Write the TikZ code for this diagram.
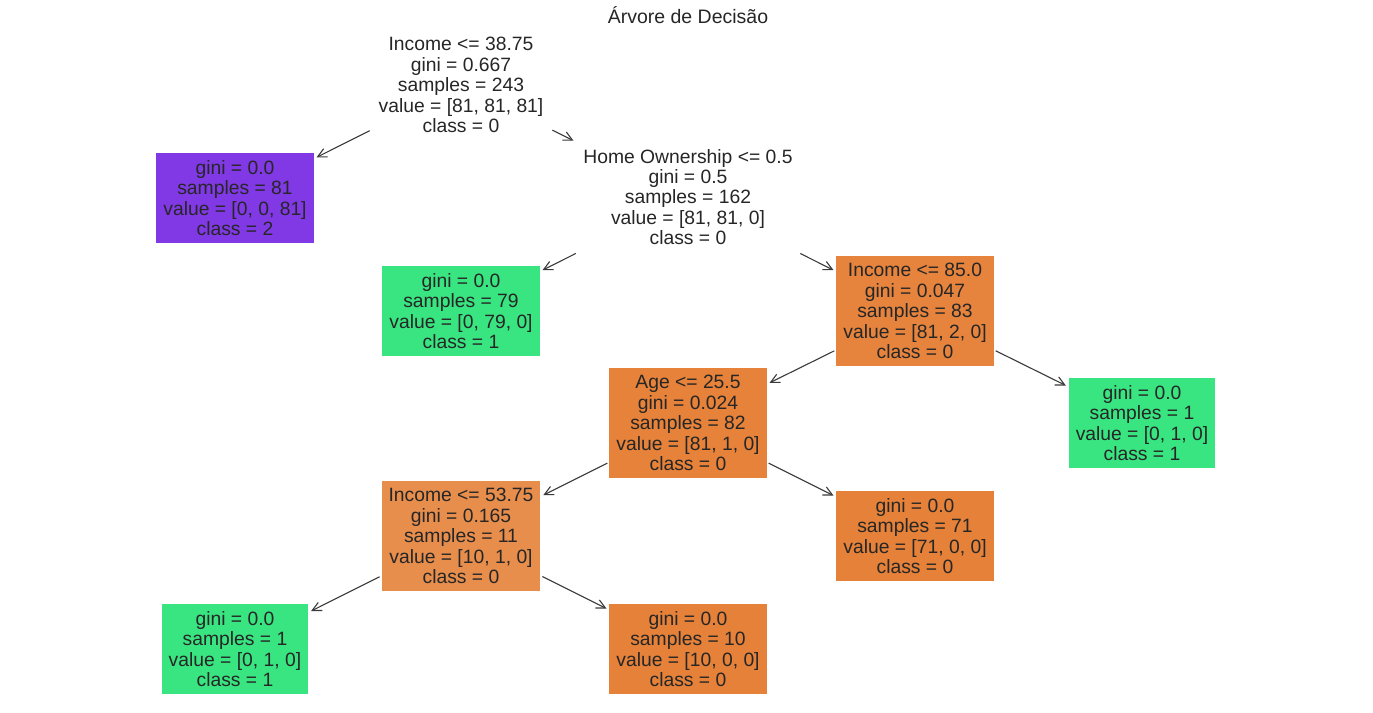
\documentclass[tikz,border=0pt]{standalone}
\usepackage{fontspec}
\setmainfont{Liberation Sans}
\usetikzlibrary{arrows.meta}
\definecolor{txt}{HTML}{262626}
\definecolor{edgec}{HTML}{3A3A3A}
\definecolor{cpurple}{HTML}{8139E5}
\definecolor{cgreen}{HTML}{39E581}
\definecolor{corange}{HTML}{E58139}
\definecolor{corangeA}{HTML}{E6843E}
\definecolor{corangeB}{HTML}{E68239}
\definecolor{corangeC}{HTML}{E88E4D}
\tikzset{
  treenode/.style={rectangle, align=center, inner xsep=7pt, inner ysep=7.5pt, text=txt,
    font=\fontsize{19.3}{20.4}\selectfont},
  edge/.style={draw=edgec, line width=1.1pt, -{Straight Barb[length=9pt,width=9pt]},
    shorten <=2pt, shorten >=3pt}
}
\begin{document}
\begin{tikzpicture}[x=1pt,y=-1pt]
\useasboundingbox (0,0) rectangle (1373,712);
\node[text=txt, font=\fontsize{19.5}{21}\selectfont] (title) at (688,15) {Árvore de Decisão};
\node[treenode] (root) at (461,85) {Income <= 38.75\\gini = 0.667\\samples = 243\\value = [81, 81, 81]\\class = 0};
\node[treenode, fill=cpurple] (n1) at (235,198) {gini = 0.0\\samples = 81\\value = [0, 0, 81]\\class = 2};
\node[treenode] (n2) at (688,197) {Home Ownership <= 0.5\\gini = 0.5\\samples = 162\\value = [81, 81, 0]\\class = 0};
\node[treenode, fill=cgreen] (n3) at (461,311) {gini = 0.0\\samples = 79\\value = [0, 79, 0]\\class = 1};
\node[treenode, fill=corangeA] (n4) at (915,311) {Income <= 85.0\\gini = 0.047\\samples = 83\\value = [81, 2, 0]\\class = 0};
\node[treenode, fill=corangeB] (n5) at (688,423) {Age <= 25.5\\gini = 0.024\\samples = 82\\value = [81, 1, 0]\\class = 0};
\node[treenode, fill=cgreen] (n6) at (1142,423) {gini = 0.0\\samples = 1\\value = [0, 1, 0]\\class = 1};
\node[treenode, fill=corangeC] (n7) at (461,536) {Income <= 53.75\\gini = 0.165\\samples = 11\\value = [10, 1, 0]\\class = 0};
\node[treenode, fill=corange] (n8) at (915,536) {gini = 0.0\\samples = 71\\value = [71, 0, 0]\\class = 0};
\node[treenode, fill=cgreen] (n9) at (235,649) {gini = 0.0\\samples = 1\\value = [0, 1, 0]\\class = 1};
\node[treenode, fill=corange] (n10) at (688,649) {gini = 0.0\\samples = 10\\value = [10, 0, 0]\\class = 0};
\draw[edge] (root) -- (n1);
\draw[edge] (root) -- (n2);
\draw[edge] (n2) -- (n3);
\draw[edge] (n2) -- (n4);
\draw[edge] (n4) -- (n5);
\draw[edge] (n4) -- (n6);
\draw[edge] (n5) -- (n7);
\draw[edge] (n5) -- (n8);
\draw[edge] (n7) -- (n9);
\draw[edge] (n7) -- (n10);
\end{tikzpicture}
\end{document}
